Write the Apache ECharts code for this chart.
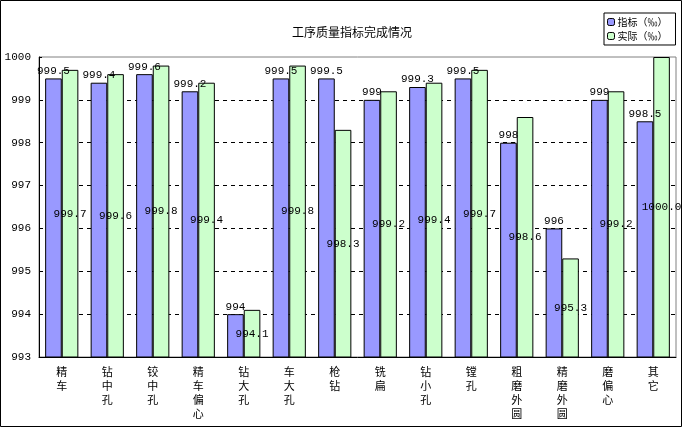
<!DOCTYPE html>
<html>
<head>
<meta charset="utf-8">
<script src="https://cdn.jsdelivr.net/npm/echarts@6/dist/echarts.min.js"></script>
<style>
  html, body { margin: 0; padding: 0; background: #fff; }
  #chart { width: 682px; height: 428px; }
</style>
</head>
<body>
<div id="chart"></div>
<script>
// 工序名称
var categories = ['精车', '钻中孔', '铰中孔', '精车偏心', '钻大孔', '车大孔', '枪钻',
  '铣扁', '钻小孔', '镗孔', '粗磨外圆', '精磨外圆', '磨偏心', '其它'];
// 指标（‰）
var target = [999.5, 999.4, 999.6, 999.2, 994, 999.5, 999.5, 999, 999.3, 999.5, 998, 996, 999, 998.5];
// 实际（‰）
var actual = [999.7, 999.6, 999.8, 999.4, 994.1, 999.8, 998.3, 999.2, 999.4, 999.7, 998.6, 995.3, 999.2, 1000.0];
var actualText = ['999.7', '999.6', '999.8', '999.4', '994.1', '999.8', '998.3', '999.2', '999.4', '999.7', '998.6', '995.3', '999.2', '1000.0'];

var cjk = '"Noto Sans CJK SC", sans-serif';
var mono = '"Liberation Mono", "DejaVu Sans Mono", monospace';

var chart = echarts.init(document.getElementById('chart'));
var option = {
  backgroundColor: '#fff',
  animation: false,
  title: {
    text: '工序质量指标完成情况',
    left: 347,
    textAlign: 'center',
    top: 21,
    textStyle: { fontFamily: cjk, fontSize: 12, fontWeight: 'normal', color: '#000' }
  },
  legend: {
    orient: 'vertical',
    left: 604,
    top: 13,
    width: 73,
    padding: [4, 8, 4, 3],
    itemGap: 4,
    itemWidth: 7,
    itemHeight: 7,
    borderColor: '#000',
    borderWidth: 1,
    backgroundColor: '#fff',
    textStyle: { fontFamily: cjk, fontSize: 10, color: '#000', padding: [0, 0, 0, -2] },
    data: [
      { name: '指标（‰）', itemStyle: { color: '#9999FF', borderColor: '#000', borderWidth: 1 } },
      { name: '实际（‰）', itemStyle: { color: '#CCFFCC', borderColor: '#000', borderWidth: 1 } }
    ]
  },
  grid: {
    left: 39, right: 6, top: 57, bottom: 71,
    outerBoundsMode: 'none',
    containLabel: false,
    show: true,
    borderColor: '#808080',
    borderWidth: 1
  },
  xAxis: {
    type: 'category',
    data: categories,
    axisLine: { lineStyle: { color: '#000', width: 1 } },
    axisTick: { inside: true, length: 3, lineStyle: { color: '#000' } },
    axisLabel: {
      interval: 0,
      margin: 8,
      fontFamily: cjk,
      fontSize: 11,
      lineHeight: 14,
      color: '#000',
      formatter: function (v) { return v.split('').join('\n'); }
    }
  },
  yAxis: {
    type: 'value',
    min: 993,
    max: 1000,
    interval: 1,
    axisLine: { show: true, lineStyle: { color: '#000', width: 1 } },
    axisTick: { show: true, inside: true, length: 3, lineStyle: { color: '#000' } },
    axisLabel: {
      fontFamily: mono, fontSize: 11, color: '#000', margin: 8,
      formatter: function (v) { return String(v); }
    },
    splitLine: {
      show: true,
      lineStyle: {
        color: ['#000', '#000', '#000', '#000', '#000', '#000', '#000', 'rgba(0,0,0,0)'],
        type: [4, 4],
        width: 1
      }
    }
  },
  series: [
    {
      name: '指标（‰）',
      type: 'bar',
      data: target,
      barGap: '0%',
      barCategoryGap: '27%',
      itemStyle: { color: '#9999FF', borderColor: '#000', borderWidth: 1 },
      label: {
        show: true,
        position: 'top',
        distance: 2,
        fontFamily: mono,
        fontSize: 11,
        color: '#000'
      }
    },
    {
      name: '实际（‰）',
      type: 'bar',
      data: actual,
      itemStyle: { color: '#CCFFCC', borderColor: '#000', borderWidth: 1 },
      label: {
        show: true,
        position: 'inside',
        fontFamily: mono,
        fontSize: 11,
        color: '#000',
        formatter: function (p) { return actualText[p.dataIndex]; }
      }
    }
  ],
  graphic: [{
    type: 'rect',
    shape: { x: 0.5, y: 0.5, width: 681, height: 426 },
    style: { fill: 'none', stroke: '#000', lineWidth: 1 },
    silent: true
  }]
};
chart.setOption(option);
</script>
</body>
</html>
